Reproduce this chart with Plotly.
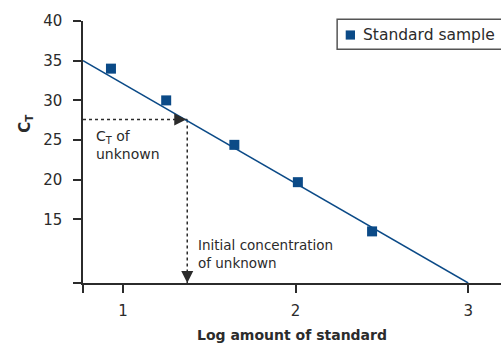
import plotly.graph_objects as go

# Standard curve data: log amount of standard vs. threshold cycle
log_amount = [0.93, 1.25, 1.645, 2.013, 2.443]
ct_values = [34.0, 30.0, 24.4, 19.7, 13.5]

# Fitted regression line end points
fit_x = [0.768, 3.0]
fit_y = [35.0, 7.0]

# Unknown sample
ct_unknown = 27.6
log_unknown = 1.372

x_range = [0.768, 3.19]
y_range = [7, 40]
x_tickvals = [0.768, 1, 2, 3]
x_ticktext = ["", "1", "2", "3"]
y_tickvals = [7, 15, 20, 25, 30, 35, 40]
y_ticktext = ["", "15", "20", "25", "30", "35", "40"]

BLUE = "#0b4a87"
INK = "#2b2b2b"
FONT = "DejaVu Sans"

fig = go.Figure()

fig.add_trace(go.Scatter(
    x=fit_x, y=fit_y, mode="lines",
    line=dict(color=BLUE, width=1.5),
    showlegend=False, hoverinfo="skip",
))

fig.add_trace(go.Scatter(
    x=log_amount, y=ct_values, mode="markers",
    name="Standard sample", showlegend=False,
    marker=dict(symbol="square", size=10, color=BLUE),
))

# Dotted guide lines for the unknown
fig.add_shape(type="line", x0=x_range[0], x1=log_unknown, y0=ct_unknown, y1=ct_unknown,
              line=dict(color=INK, width=1.5, dash="dot"), layer="below")
fig.add_shape(type="line", x0=log_unknown, x1=log_unknown, y0=ct_unknown, y1=y_range[0],
              line=dict(color=INK, width=1.5, dash="dot"), layer="below")

# Arrowheads at the ends of the guides
fig.add_annotation(x=log_unknown, y=ct_unknown, ax=-12, ay=0, text="",
                   showarrow=True, arrowhead=2, arrowsize=2, arrowwidth=1.2,
                   arrowcolor=INK, standoff=1)
fig.add_annotation(x=log_unknown, y=y_range[0], ax=0, ay=-12, text="",
                   showarrow=True, arrowhead=2, arrowsize=2, arrowwidth=1.2,
                   arrowcolor=INK, standoff=0)

fig.add_annotation(x=x_range[0], y=ct_unknown, xanchor="left", yanchor="top",
                   xshift=11, yshift=-7, align="left", showarrow=False,
                   text="C<sub>T</sub> of<br>unknown",
                   font=dict(family=FONT, size=14, color=INK))
fig.add_annotation(x=log_unknown, y=y_range[0], xanchor="left", yanchor="bottom",
                   xshift=9, yshift=10, align="left", showarrow=False,
                   text="Initial concentration<br>of unknown",
                   font=dict(family=FONT, size=13.5, color=INK))

# Y-axis title
fig.add_annotation(xref="paper", yref="paper", x=-0.165, y=0.61, textangle=-90,
                   showarrow=False, text="<b>C<sub>T</sub></b>",
                   font=dict(family=FONT, size=15, color=INK))

# Legend box (extends past the right edge of the figure)
fig.add_shape(type="rect", xref="paper", yref="paper",
              x0=0.608, x1=1.08, y0=0.892, y1=1.0065,
              line=dict(color="#555555", width=1.5), fillcolor="white")
fig.add_shape(type="rect", xref="paper", yref="paper",
              x0=0.6285, x1=0.6507, y0=0.929, y1=0.964,
              line=dict(width=0), fillcolor=BLUE)
fig.add_annotation(xref="paper", yref="paper", x=0.664, y=0.948,
                   xanchor="left", yanchor="middle", showarrow=False,
                   text="Standard sample",
                   font=dict(family=FONT, size=15.5, color=INK))

axis_common = dict(
    showline=True, linecolor=INK, linewidth=1.5,
    ticks="outside", ticklen=8, tickwidth=1.5, tickcolor=INK,
    showgrid=False, zeroline=False,
    tickfont=dict(family=FONT, size=15, color=INK),
)

fig.update_xaxes(range=x_range, tickvals=x_tickvals, ticktext=x_ticktext,
                 ticklabelstandoff=5,
                 title=dict(text="<b>Log amount of standard</b>", standoff=11,
                            font=dict(family=FONT, size=14, color=INK)),
                 **axis_common)
fig.update_yaxes(range=y_range, tickvals=y_tickvals, ticktext=y_ticktext,
                 ticklabelstandoff=8,
                 **axis_common)

fig.update_layout(
    width=501, height=346,
    margin=dict(l=83, r=0, t=21, b=63),
    plot_bgcolor="white", paper_bgcolor="white",
    font=dict(family=FONT, color=INK),
    showlegend=False,
)

fig.write_html("out.html")
